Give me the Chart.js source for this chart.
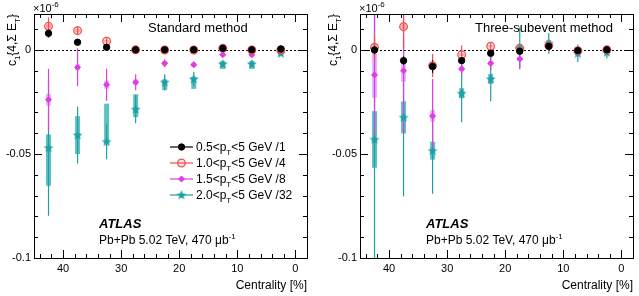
<!DOCTYPE html>
<html>
<head>
<meta charset="utf-8">
<script src="https://cdn.jsdelivr.net/npm/chart.js@4.4.1/dist/chart.umd.min.js"></script>
<style>
  html, body { margin: 0; padding: 0; background: #fff; }
  #wrap { position: relative; width: 639px; height: 296px; }
  canvas { position: absolute; top: 0; }
</style>
</head>
<body>
<div id="wrap">
  <canvas id="left" width="320" height="296" style="left:0"></canvas>
  <canvas id="right" width="319" height="296" style="left:320px"></canvas>
</div>
<script>
// centrality bin centres [%]
const centrality = [42.5, 37.5, 32.5, 27.5, 22.5, 17.5, 12.5, 7.5, 2.5];
const ptLow = ['0.5', '1.0', '1.5', '2.0'];
const divisors = ['1', '4', '8', '32'];
const panelTitles = ['Standard method', 'Three-subevent method'];

// standard method (units of 1e-6)
const stdBlack      = [0.0080, 0.0037, 0.0013, 0.0001, 0.0001, 0.0001, 0.0008, 0.0001, 0.0005];
const stdBlackStat  = [0.0020, 0.0010, 0.0010, 0.0005, 0.0005, 0.0005, 0.0005, 0.0005, 0.0005];
const stdBlackSys   = [0.0008, 0.0005, 0.0005, 0.0003, 0.0003, 0.0003, 0.0003, 0.0003, 0.0003];
const stdRed        = [0.0114, 0.0093, 0.0042, 0.0001, 0.0000, 0.0000, 0.0008, 0.0000, 0.0000];
const stdRedStat    = [0.0043, 0.0022, 0.0015, 0.0008, 0.0005, 0.0005, 0.0005, 0.0005, 0.0005];
const stdRedSys     = [0.0010, 0.0008, 0.0006, 0.0004, 0.0003, 0.0003, 0.0003, 0.0003, 0.0003];
const stdMag        = [-0.0239, -0.0083, -0.0167, -0.0155, -0.0064, -0.0071, -0.0023, -0.0023, -0.0003];
const stdMagStat    = [0.0148, 0.0091, 0.0077, 0.0038, 0.0019, 0.0014, 0.0010, 0.0010, 0.0007];
const stdMagSys     = [0.0028, 0.0014, 0.0019, 0.0014, 0.0010, 0.0010, 0.0007, 0.0007, 0.0005];
const stdTeal       = [-0.0470, -0.0409, -0.0441, -0.0285, -0.0155, -0.0139, -0.0067, -0.0067, -0.0016];
const stdTealStat   = [0.0327, 0.0137, 0.0084, 0.0067, 0.0038, 0.0034, 0.0012, 0.0012, 0.0010];
const stdTealSysUp  = [0.0064, 0.0091, 0.0183, 0.0072, 0.0014, 0.0010, 0.0014, 0.0014, 0.0010];
const stdTealSysDn  = [0.0183, 0.0091, 0.0010, 0.0038, 0.0038, 0.0048, 0.0024, 0.0024, 0.0010];

// three-subevent method
const subBlack      = [0.0000, -0.0051, -0.0079, -0.0051, -0.0016, -0.0006, 0.0018, -0.0003, 0.0001];
const subBlackStat  = [0.0020, 0.0020, 0.0030, 0.0010, 0.0010, 0.0010, 0.0010, 0.0010, 0.0010];
const subBlackSys   = [0.0008, 0.0008, 0.0008, 0.0005, 0.0004, 0.0004, 0.0004, 0.0003, 0.0003];
const subRed        = [0.0013, 0.0112, -0.0075, -0.0023, 0.0018, 0.0008, 0.0021, -0.0003, 0.0001];
const subRedStat    = [0.0060, 0.0100, 0.0056, 0.0044, 0.0015, 0.0010, 0.0010, 0.0010, 0.0010];
const subRedSys     = [0.0012, 0.0012, 0.0010, 0.0006, 0.0005, 0.0004, 0.0004, 0.0003, 0.0003];
const subMag        = [-0.0120, -0.0100, -0.0317, -0.0091, -0.0064, -0.0043, 0.0016, -0.0003, 0.0001];
const subMagStat    = [0.0300, 0.0300, 0.0178, 0.0030, 0.0030, 0.0045, 0.0020, 0.0010, 0.0010];
const subMagSys     = [0.0110, 0.0052, 0.0028, 0.0010, 0.0010, 0.0010, 0.0010, 0.0005, 0.0005];
const subTeal       = [-0.0430, -0.0324, -0.0484, -0.0208, -0.0139, 0.0008, 0.0032, -0.0016, -0.0011];
const subTealStat   = [0.0900, 0.0380, 0.0207, 0.0139, 0.0108, 0.0101, 0.0050, 0.0042, 0.0029];
const subTealSys    = [0.0136, 0.0077, 0.0043, 0.0024, 0.0024, 0.0019, 0.0016, 0.0010, 0.0010];

const FONT = "'Liberation Sans', Arial, Helvetica, sans-serif";
const colBlack = '#000000', colRed = '#f04f4f', colMag = '#e03ce4', colTeal = '#1f9fa3';
const boxBlack = 'rgba(0,0,0,0.3)', boxRed = 'rgba(240,80,80,0.4)';
const boxMag = 'rgba(205,110,245,0.5)', boxTeal = 'rgba(40,172,172,0.75)';

function makeStar(color) {
  const c = document.createElement('canvas');
  c.width = 12; c.height = 12;
  const g = c.getContext('2d');
  g.beginPath();
  for (let k = 0; k < 10; k++) {
    const r = k % 2 === 0 ? 5.2 : 2.2;
    const a = -Math.PI / 2 + k * Math.PI / 5;
    const px = 6 + r * Math.cos(a), py = 6.3 + r * Math.sin(a);
    k === 0 ? g.moveTo(px, py) : g.lineTo(px, py);
  }
  g.closePath();
  g.fillStyle = color;
  g.fill();
  return c;
}
const starImg = makeStar(colTeal);

const styles = [
  { color: colBlack, box: boxBlack, pointStyle: 'circle', radius: 3.2, bg: colBlack, bw: 1 },
  { color: colRed, box: boxRed, pointStyle: 'circle', radius: 3.8, bg: 'rgba(240,80,80,0.15)', bw: 1.3 },
  { color: colMag, box: boxMag, pointStyle: 'rectRot', radius: 3, bg: colMag, bw: 1 },
  { color: colTeal, box: boxTeal, pointStyle: starImg, radius: 5, bg: colTeal, bw: 1 }
];

function makeDataset(k, vals, stat, sysUp, sysDn) {
  const s = styles[k];
  return {
    label: ptLow[k],
    data: centrality.map((c, i) => ({ x: c, y: vals[i] })),
    stat: stat, sysUp: sysUp, sysDn: sysDn,
    lineColor: s.color, boxColor: s.box,
    showLine: false,
    pointStyle: s.pointStyle,
    pointRadius: s.radius,
    pointHoverRadius: s.radius,
    pointBorderWidth: s.bw,
    borderColor: s.color,
    backgroundColor: s.bg
  };
}

// rich text: parts = [[text, 'n'|'sub'|'sup'], ...]
function richWidth(ctx, parts, size) {
  let w = 0;
  for (const [t, k] of parts) {
    ctx.font = (k === 'n' ? size : Math.round(size * 0.7)) + 'px ' + FONT;
    w += ctx.measureText(t).width;
  }
  return w;
}
function drawRich(ctx, parts, x, y, size, align) {
  let cx = align === 'right' ? x - richWidth(ctx, parts, size) : x;
  ctx.textAlign = 'left';
  ctx.textBaseline = 'alphabetic';
  for (const [t, k] of parts) {
    const fs = k === 'n' ? size : Math.round(size * 0.7);
    ctx.font = fs + 'px ' + FONT;
    const dy = k === 'sub' ? size * 0.3 : k === 'sup' ? -size * 0.45 : 0;
    ctx.fillText(t, cx, y + dy);
    cx += ctx.measureText(t).width;
  }
}

const rootStyle = {
  id: 'rootStyle',
  beforeDatasetsDraw(chart) {
    const { ctx, chartArea: a, scales: { x, y } } = chart;
    ctx.save();
    ctx.beginPath();
    ctx.rect(a.left, a.top, a.right - a.left, a.bottom - a.top);
    ctx.clip();
    // dotted zero line
    ctx.strokeStyle = '#000';
    ctx.lineWidth = 1;
    ctx.setLineDash([2, 2]);
    const y0 = Math.round(y.getPixelForValue(0)) + 0.5;
    ctx.beginPath(); ctx.moveTo(a.left, y0); ctx.lineTo(a.right, y0); ctx.stroke();
    ctx.setLineDash([]);
    // systematic boxes and statistical bars
    for (let d = chart.data.datasets.length - 1; d >= 0; d--) {
      const ds = chart.data.datasets[d];
      ds.data.forEach((p, i) => {
        const px = x.getPixelForValue(p.x);
        const yTop = y.getPixelForValue(p.y + ds.sysUp[i]);
        const yBot = y.getPixelForValue(p.y - ds.sysDn[i]);
        ctx.fillStyle = ds.boxColor;
        ctx.fillRect(px - 2.5, yTop, 5, Math.max(1, yBot - yTop));
        ctx.strokeStyle = ds.lineColor;
        ctx.lineWidth = 1.2;
        ctx.beginPath();
        ctx.moveTo(px, y.getPixelForValue(p.y + ds.stat[i]));
        ctx.lineTo(px, y.getPixelForValue(p.y - ds.stat[i]));
        ctx.stroke();
      });
    }
    ctx.restore();
  },
  afterDatasetsDraw(chart) {
    const { ctx, chartArea: a, scales: { x, y } } = chart;
    ctx.save();
    ctx.strokeStyle = '#000';
    ctx.lineWidth = 1;
    ctx.strokeRect(Math.round(a.left) + 0.5, Math.round(a.top) + 0.5, Math.round(a.right - a.left), Math.round(a.bottom - a.top));
    ctx.beginPath();
    for (let v = 0; v <= 44; v += 2) {
      const px = Math.round(x.getPixelForValue(v)) + 0.5;
      const len = v % 10 === 0 ? 8 : 4;
      ctx.moveTo(px, a.bottom); ctx.lineTo(px, a.bottom - len);
      ctx.moveTo(px, a.top); ctx.lineTo(px, a.top + len);
    }
    for (let k = -10; k <= 1; k++) {
      const py = Math.round(y.getPixelForValue(k / 100)) + 0.5;
      const len = k % 5 === 0 ? 8 : 4;
      ctx.moveTo(a.left, py); ctx.lineTo(a.left + len, py);
      ctx.moveTo(a.right, py); ctx.lineTo(a.right - len, py);
    }
    ctx.stroke();
    ctx.restore();
  },
  afterDraw(chart) {
    const o = chart.options.plugins.rootStyle;
    const { ctx, chartArea: a } = chart;
    ctx.save();
    ctx.fillStyle = '#000';
    // exponent
    drawRich(ctx, [['\u00d710', 'n'], ['-6', 'sup']], a.left - 1, 12, 11, 'left');
    // y title, rotated, aligned to top end
    ctx.save();
    ctx.translate(o.yTitleX, a.top);
    ctx.rotate(-Math.PI / 2);
    drawRich(ctx, [['c', 'n'], ['1', 'sub'], ['{4,\u03a3 E', 'n'], ['T', 'sub'], ['}', 'n']], 0, 0, 12, 'right');
    ctx.restore();
    // x title
    drawRich(ctx, [['Centrality [%]', 'n']], a.right, 289, 12, 'right');
    // panel title
    ctx.font = '13px ' + FONT;
    ctx.textAlign = 'left';
    ctx.fillText(o.title, o.titleX, 32);
    // ATLAS label
    ctx.font = 'italic bold 13px ' + FONT;
    ctx.fillText('ATLAS', o.atlasX, 228);
    drawRich(ctx, [['Pb+Pb 5.02 TeV, 470 \u03bcb', 'n'], ['-1', 'sup']], o.atlasX, 244, 12, 'left');
    // legend
    if (o.legend) {
      chart.data.datasets.forEach((ds, k) => {
        const ly = 147 + 16 * k;
        ctx.strokeStyle = ds.lineColor;
        ctx.lineWidth = 1.2;
        ctx.beginPath(); ctx.moveTo(170, ly); ctx.lineTo(193, ly); ctx.stroke();
        ctx.fillStyle = ds.backgroundColor;
        ctx.lineWidth = ds.pointBorderWidth;
        Chart.helpers.drawPoint(ctx, { pointStyle: ds.pointStyle, radius: ds.pointRadius, borderWidth: ds.pointBorderWidth, rotation: 0 }, 181.5, ly);
        ctx.fillStyle = '#000';
        drawRich(ctx, [[ptLow[k] + '<p', 'n'], ['T', 'sub'], ['<5 GeV /' + divisors[k], 'n']], 196, ly + 4, 12, 'left');
      });
    }
    ctx.restore();
  }
};

function makeChart(id, datasets, opts) {
  return new Chart(document.getElementById(id), {
    type: 'scatter',
    data: { datasets: datasets },
    plugins: [rootStyle],
    options: {
      responsive: false,
      animation: false,
      devicePixelRatio: 1,
      layout: { padding: { top: 14, right: opts.padRight, left: 0, bottom: 0 } },
      plugins: { legend: { display: false }, tooltip: { enabled: false }, rootStyle: opts },
      scales: {
        x: {
          type: 'linear', min: -2, max: 45, reverse: true,
          grid: { display: false, drawTicks: false }, border: { display: false },
          ticks: { stepSize: 10, includeBounds: false, padding: 4, color: '#000', font: { family: FONT, size: 11 }, maxRotation: 0 },
          afterFit: s => { s.height = 38; }
        },
        y: {
          type: 'linear', min: -0.1, max: 0.0173,
          grid: { display: false, drawTicks: false }, border: { display: false },
          ticks: { stepSize: 0.05, includeBounds: false, padding: 3, color: '#000', font: { family: FONT, size: 11 },
                   callback: v => String(Math.round(v * 100) / 100) },
          afterFit: s => { s.width = opts.yWidth; }
        }
      }
    }
  });
}

makeChart('left', [
  makeDataset(0, stdBlack, stdBlackStat, stdBlackSys, stdBlackSys),
  makeDataset(1, stdRed, stdRedStat, stdRedSys, stdRedSys),
  makeDataset(2, stdMag, stdMagStat, stdMagSys, stdMagSys),
  makeDataset(3, stdTeal, stdTealStat, stdTealSysUp, stdTealSysDn)
], { padRight: 13, yWidth: 34, yTitleX: 16, title: panelTitles[0], titleX: 148, atlasX: 99, legend: true });

makeChart('right', [
  makeDataset(0, subBlack, subBlackStat, subBlackSys, subBlackSys),
  makeDataset(1, subRed, subRedStat, subRedSys, subRedSys),
  makeDataset(2, subMag, subMagStat, subMagSys, subMagSys),
  makeDataset(3, subTeal, subTealStat, subTealSys, subTealSys)
], { padRight: 4, yWidth: 40, yTitleX: 17, title: panelTitles[1], titleX: 155, atlasX: 106, legend: false });
</script>
</body>
</html>
